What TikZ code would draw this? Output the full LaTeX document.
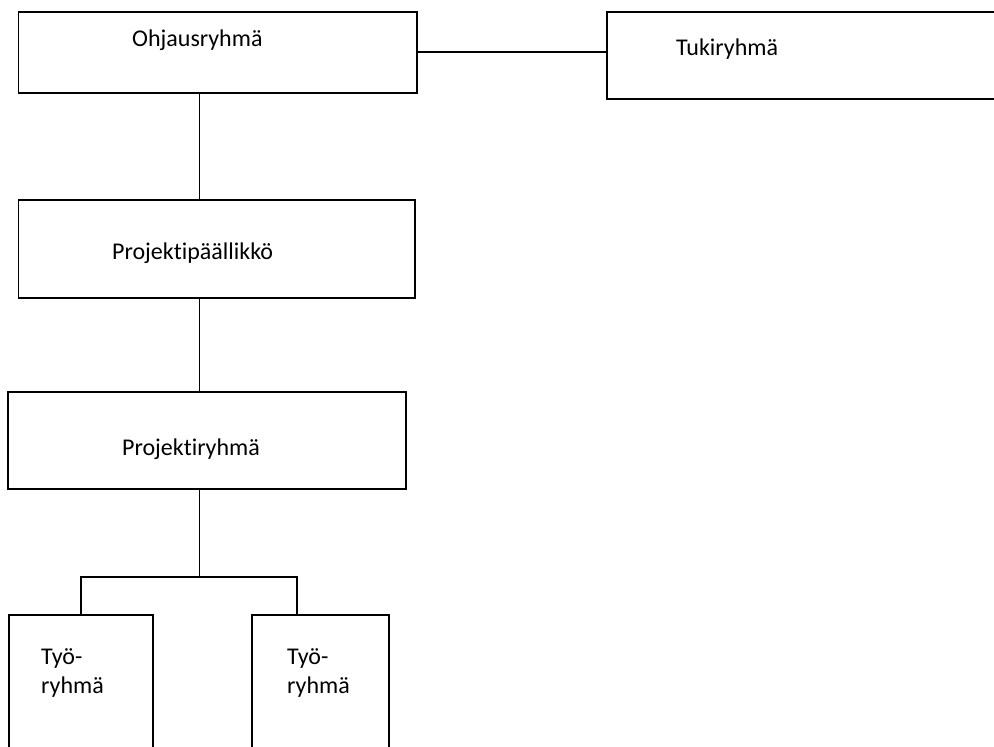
\documentclass[tikz,border=0pt]{standalone}
\usepackage{fontspec}
\setmainfont[RawFeature=-liga]{Carlito}
\begin{document}
\begin{tikzpicture}[x=1pt,y=-1pt,
  box/.style={draw=black,line width=1.8pt,inner sep=0pt,rectangle},
  lbl/.style={inner sep=0pt,anchor=base west,font=\fontsize{24}{29}\selectfont,text=black},
  conn/.style={draw=black,line width=1.8pt}]
\useasboundingbox[fill=white] (0,0) rectangle (994,747);
% boxes
\node[box,minimum width=398.2pt,minimum height=80.7pt] (ohj) at (217.6,52.35) {};
\node[box,minimum width=393.3pt,minimum height=87pt] (tuki) at (803.35,55.5) {};
\node[box,minimum width=396.5pt,minimum height=97.7pt] (pp) at (216.75,248.85) {};
\node[box,minimum width=397.4pt,minimum height=97pt] (pr) at (207,440.8) {};
\node[box,minimum width=144.3pt,minimum height=145pt] (t1) at (81.15,687.5) {};
\node[box,minimum width=137.3pt,minimum height=145pt] (t2) at (320.35,687.5) {};
% labels
\node[lbl] (ohjt) at (132,46) {Ohjausryhmä};
\node[lbl] (tukit) at (676,55) {Tukiryhmä};
\node[lbl] (ppt) at (112,259) {Projektipäällikkö};
\node[lbl] (prt) at (122,455) {Projektiryhmä};
\node[lbl] (t1a) at (41,664) {Työ-};
\node[lbl] (t1b) at (41,693) {ryhmä};
\node[lbl] (t2a) at (287,664) {Työ-};
\node[lbl] (t2b) at (287,693) {ryhmä};
% helper coordinates
\coordinate (spine) at (199.5,0);
\coordinate (bar) at (0,576.7);
\coordinate (rdrop) at (296.7,0);
% connectors
\draw[conn] (ohj.east) -- (ohj.east -| tuki.west);
\draw[conn] (ohj.south -| spine) -- (pp.north -| spine);
\draw[conn] (pp.south -| spine) -- (pr.north -| spine);
\draw[conn] (pr.south -| spine) -- (spine |- bar);
\draw[conn] (t1.north) -- (t1.north |- bar) -- (rdrop |- bar) -- (rdrop |- t2.north);
\end{tikzpicture}
\end{document}
